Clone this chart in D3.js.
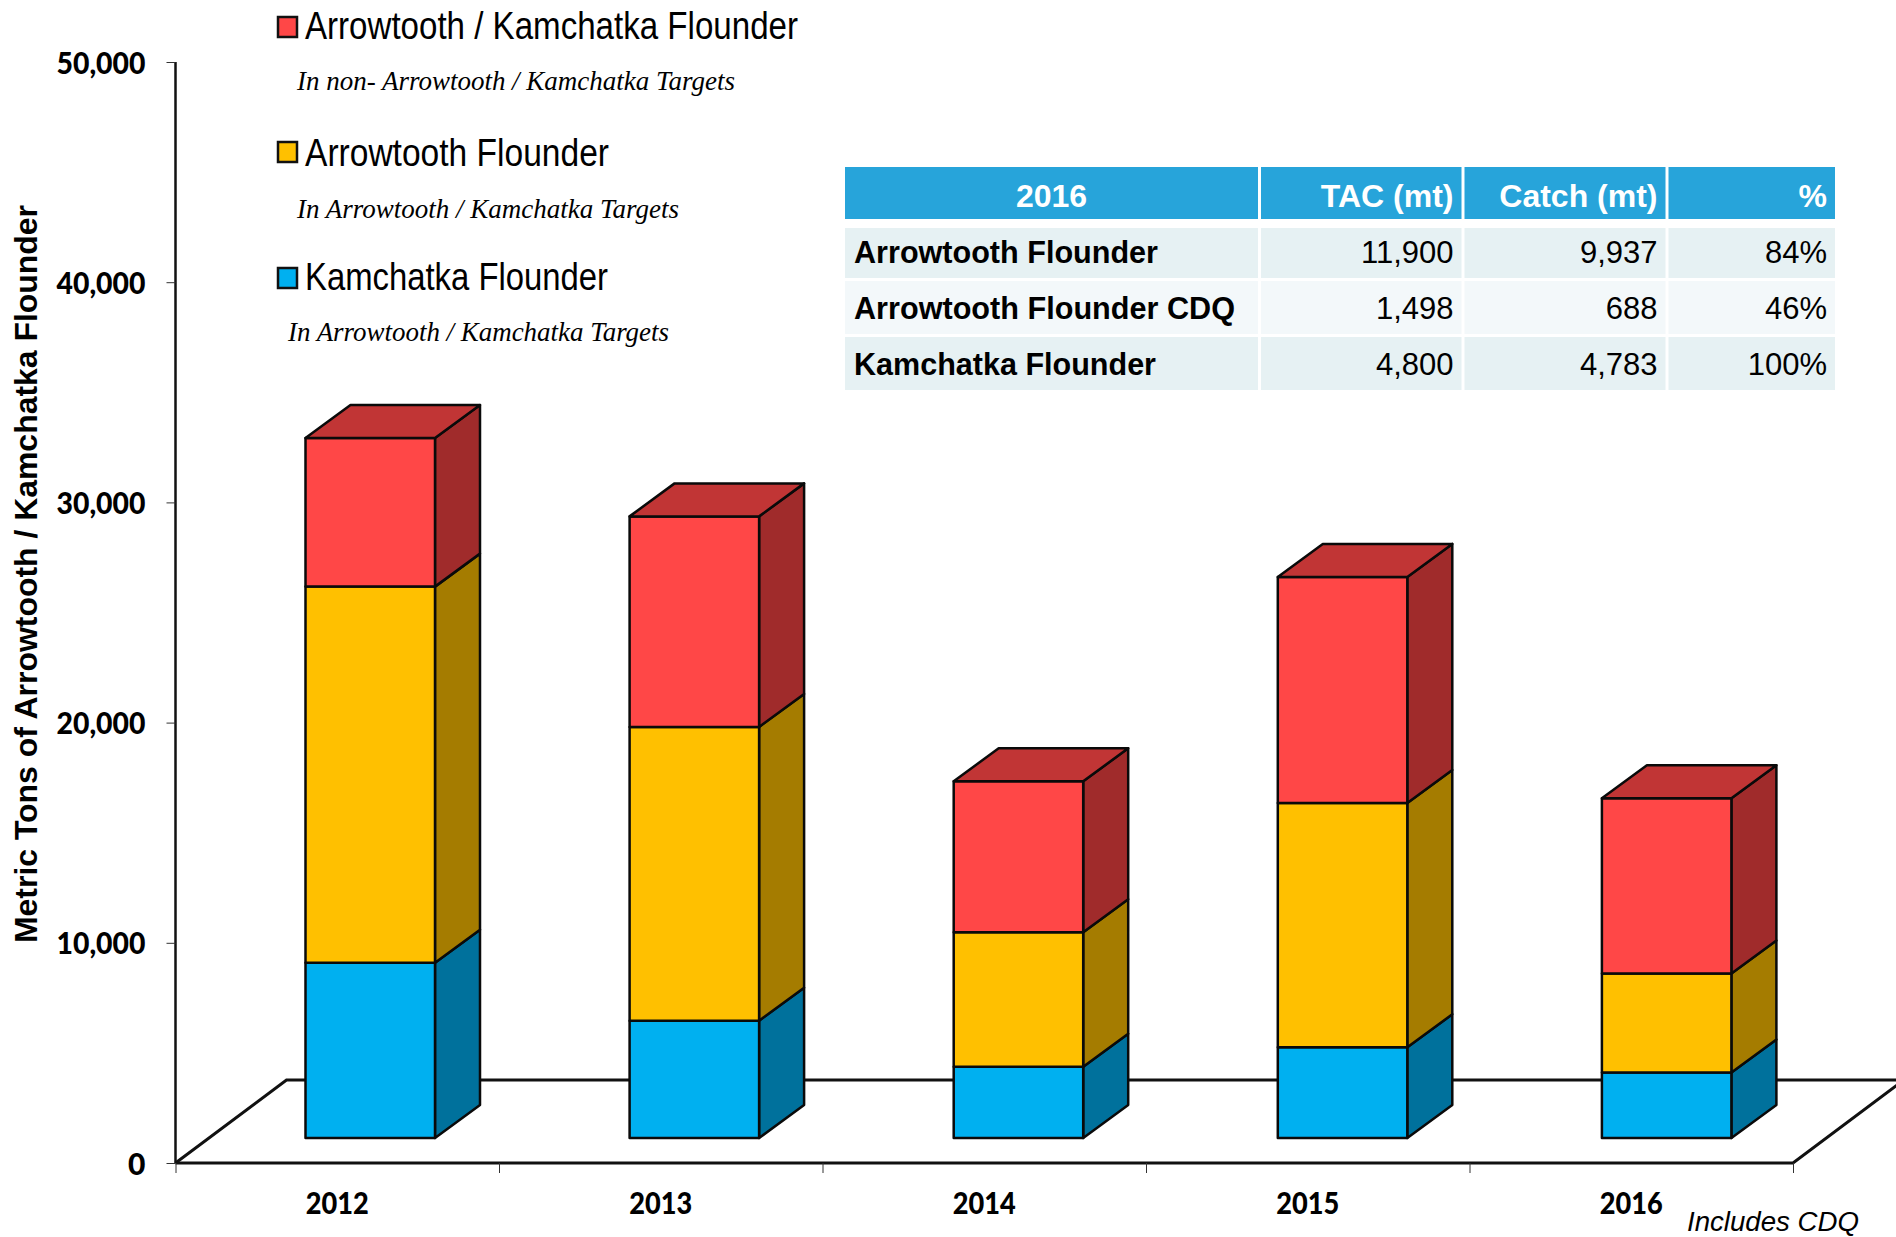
<!DOCTYPE html>
<html><head><meta charset="utf-8">
<script src="https://cdnjs.cloudflare.com/ajax/libs/d3/7.8.5/d3.min.js"></script>
<style>html,body{margin:0;padding:0;background:#fff;overflow:hidden}svg{display:block}</style>
</head><body><svg id="c" width="1896" height="1237"></svg>
<script>
const years = ["2012","2013","2014","2015","2016"];
const kamchatka = [7960,5330,3240,4120,2970];
const arrowtooth = [17080,13340,6100,11090,4500];
const mixed = [6750,9560,6860,10270,7960];
const yTicks = [0,10000,20000,30000,40000,50000];
const seriesKeys = ["kamchatka","arrowtooth","mixed"];
const legendTitles = ["Arrowtooth / Kamchatka Flounder","Arrowtooth Flounder","Kamchatka Flounder"];
const legendNotes = ["In non- Arrowtooth / Kamchatka Targets","In Arrowtooth / Kamchatka Targets","In Arrowtooth / Kamchatka Targets"];
const tableHead = ["2016","TAC (mt)","Catch (mt)","%"];
const tableNames = ["Arrowtooth Flounder","Arrowtooth Flounder CDQ","Kamchatka Flounder"];
const tableTac = ["11,900","1,498","4,800"];
const tableCatch = ["9,937","688","4,783"];
const tablePct = ["84%","46%","100%"];

const front={kamchatka:"#00B0F0",arrowtooth:"#FFC000",mixed:"#FF4747"};
const side={kamchatka:"#00719C",arrowtooth:"#A57C00",mixed:"#A02B2B"};
const topFace="#C13535";
const svg=d3.select("#c");
const x0=175.5,x1=1793,yBase=1163,yTop=62;
const floorDx=111,floorDy=83,barDx=45,barDy=33,barLift=25,barW=129.5;

const x=d3.scaleBand().domain(years).range([x0,x1]);
const xBars=d3.scaleBand().domain(years).range([x0+130,x0+130+324.1*5]);
const y=d3.scaleLinear().domain([0,50000]).range([yBase,yTop]);
const tickPos=d3.scaleLinear().domain([0,5]).range([x0,x1]);
const table=years.map((yr,i)=>({year:yr,kamchatka:kamchatka[i],arrowtooth:arrowtooth[i],mixed:mixed[i]}));
const stack=d3.stack().keys(seriesKeys)(table);

// floor
const floor=svg.append("g").attr("fill","none").attr("stroke","#111");
floor.append("path").attr("stroke-width",3).attr("d",d3.line()([[x0,yBase],[x0+floorDx,yBase-floorDy],[x1+floorDx,yBase-floorDy]]));
floor.append("path").attr("stroke-width",3).attr("d",d3.line()([[x0,yBase],[x1,yBase],[x1+floorDx,yBase-floorDy]]));

// axes
const yAxis=svg.append("g").attr("transform",`translate(${x0},0)`)
  .call(d3.axisLeft(y).tickValues(yTicks).tickSize(9).tickFormat(d3.format(",")));
yAxis.select(".domain").attr("stroke","#111").attr("stroke-width",2.5).attr("d",`M0,${yTop}V${yBase}`);
yAxis.selectAll(".tick line").attr("stroke","#333").attr("stroke-width",1);
yAxis.selectAll(".tick text").attr("x",-30).attr("dy",null).attr("y",11)
  .attr("text-anchor","end").attr("font-family","Lato").attr("font-weight",900).attr("font-size",30).attr("fill","#000")
  .filter(d=>d>0).attr("textLength",89).attr("lengthAdjust","spacingAndGlyphs");
const xAxis=svg.append("g").attr("transform",`translate(0,${yBase})`)
  .call(d3.axisBottom(tickPos).tickValues([0,1,2,3,4,5]).tickSize(10).tickFormat(""));
xAxis.select(".domain").remove();
xAxis.selectAll(".tick line").attr("stroke","#333").attr("stroke-width",1);
svg.append("g").selectAll("text").data(years).join("text")
  .attr("x",d=>x(d)+x.bandwidth()/2).attr("y",1214).attr("text-anchor","middle")
  .attr("font-family","Lato").attr("font-weight",900).attr("font-size",29.5).attr("fill","#000")
  .attr("textLength",63).attr("lengthAdjust","spacingAndGlyphs").text(d=>d);

// bars
const bars=svg.append("g").attr("stroke","#0a0a0a").attr("stroke-width",2.5).attr("stroke-linejoin","round");
stack.forEach(s=>{
  const g=bars.append("g");
  s.forEach(d=>{
    const L=xBars(d.data.year), R=L+barW;
    const T=y(d[1])-barLift, B=y(d[0])-barLift;
    g.append("polygon").attr("fill",side[s.key])
      .attr("points",[[R,T],[R+barDx,T-barDy],[R+barDx,B-barDy],[R,B]].join(" "));
    g.append("rect").attr("fill",front[s.key]).attr("x",L).attr("y",T).attr("width",barW).attr("height",B-T);
    if(s.key==="mixed"){
      g.append("polygon").attr("fill",topFace)
        .attr("points",[[L,T],[L+barDx,T-barDy],[R+barDx,T-barDy],[R,T]].join(" "));
    }
  });
});

// y title
svg.append("text").attr("transform","translate(37,943) rotate(-90)")
  .attr("font-family","Liberation Sans").attr("font-weight",700).attr("font-size",31).attr("fill","#000")
  .attr("textLength",738).attr("lengthAdjust","spacingAndGlyphs")
  .text("Metric Tons of Arrowtooth / Kamchatka Flounder");

// legend
const lgBase=[39,165.5,290],lgW=[493,304,303],swTop=[17,142,268];
const noteBase=[90,218,341],noteX=[297,297,288],noteW=[438,382,381];
const lgColors=[front.mixed,front.arrowtooth,front.kamchatka];
const lg=svg.append("g");
legendTitles.forEach((t,i)=>{
  lg.append("rect").attr("x",278).attr("y",swTop[i]).attr("width",19).attr("height",20)
    .attr("fill",lgColors[i]).attr("stroke","#111").attr("stroke-width",2.5);
  lg.append("text").attr("x",305).attr("y",lgBase[i]).attr("font-family","Liberation Sans").attr("font-size",38).attr("fill","#000")
    .attr("textLength",lgW[i]).attr("lengthAdjust","spacingAndGlyphs").text(t);
  lg.append("text").attr("x",noteX[i]).attr("y",noteBase[i]).attr("font-family","Liberation Serif").attr("font-style","italic").attr("font-size",28).attr("fill","#000")
    .attr("textLength",noteW[i]).attr("lengthAdjust","spacingAndGlyphs").text(legendNotes[i]);
});

// table
const colX=[845,1261,1464.5,1668.5,1835];
const rowY=[[228,278],[281,334],[337,390]];
const rowFill=["#E6F1F3","#F3F8FA","#E6F1F3"];
const rowBase=[263,319,375];
const nameW=[304,381,302];
const tb=svg.append("g").attr("font-family","Liberation Sans");
tableHead.forEach((h,c)=>{
  const a=colX[c],b=colX[c+1]-(c<3?3:0);
  tb.append("rect").attr("x",a).attr("y",167).attr("width",b-a).attr("height",52).attr("fill","#27A4DA");
  tb.append("text").attr("x",c===0?(a+b)/2:b-8).attr("y",207).attr("text-anchor",c===0?"middle":"end")
    .attr("font-size",32).attr("font-weight",700).attr("fill","#fff").text(h);
});
tableNames.forEach((n,r)=>{
  const vals=[n,tableTac[r],tableCatch[r],tablePct[r]];
  vals.forEach((v,c)=>{
    const a=colX[c],b=colX[c+1]-(c<3?3:0);
    tb.append("rect").attr("x",a).attr("y",rowY[r][0]).attr("width",b-a).attr("height",rowY[r][1]-rowY[r][0]).attr("fill",rowFill[r]);
    const t=tb.append("text").attr("y",rowBase[r]).attr("font-size",31).attr("fill","#000").text(v);
    if(c===0) t.attr("x",854).attr("font-weight",700).attr("textLength",nameW[r]).attr("lengthAdjust","spacingAndGlyphs");
    else t.attr("x",b-8).attr("text-anchor","end");
  });
});

svg.append("text").attr("x",1687).attr("y",1231).attr("font-family","Liberation Sans").attr("font-style","italic")
  .attr("font-size",27).attr("fill","#000").attr("textLength",172).attr("lengthAdjust","spacingAndGlyphs").text("Includes CDQ");
</script></body></html>
